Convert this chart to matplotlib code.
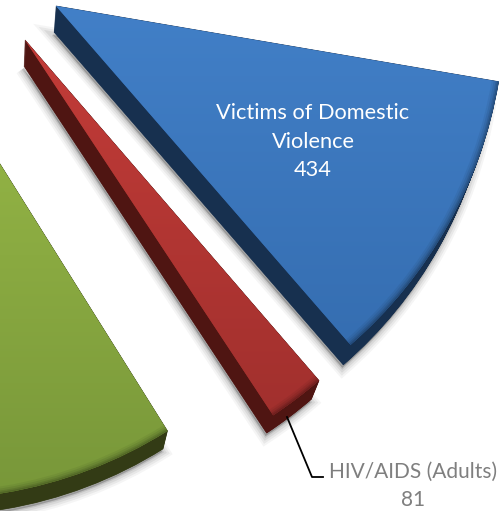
# -*- coding: utf-8 -*-
import numpy as np
import matplotlib
matplotlib.use("Agg")
import matplotlib.pyplot as plt
from matplotlib.colors import LinearSegmentedColormap

# Data
labels = ["Victims of Domestic\nViolence", "HIV/AIDS (Adults)", "Other"]
values = [434, 81, 1000]  # the green slice has no visible label, value is a guess
pieTotal = 3975

# Layout in pixels of the 501x511 picture
W, H = 501, 511
startAngles = [-9.7, -49.2, -57.9]
topCenters = [(56, 6), (25, 40), (-69, 54)]
topRadius = [449, 450, 445]
sideCenters = [(54, 32), (24, 66), (-67, 82)]
sideRadius = [441, 440, 433]

# Colours
topColours = [("#4280C8", "#2F65A6"), ("#C63D39", "#992D2B"), ("#9DBE49", "#779639")]
sideColours = ["#17304F", "#4F1512", "#333B15"]


def drawWedge(ax, share, start, center, radius, **props):
    cx, cy = center
    wedges, _ = ax.pie([share, 1 - share], startangle = start, counterclock = False,
                       center = (cx, H - cy), radius = radius, wedgeprops = props,
                       normalize = False)
    wedges[1].set_visible(False)
    return wedges[0]


def drawSlice(ax, i):
    share = values[i] / pieTotal
    start = startAngles[i]
    tx, ty = topCenters[i]
    sx, sy = sideCenters[i]

    # Soft drop shadow below the slice
    for lw, alpha in [(11, 0.05), (8, 0.07), (5, 0.09), (2, 0.14)]:
        drawWedge(ax, share, start, (sx - 1, sy + 3), sideRadius[i], facecolor = "#404040",
                  edgecolor = "#404040", linewidth = lw, alpha = alpha, zorder = 1)

    # Extruded side, stacked from the bottom face up to the top face
    steps = 30
    for t in np.linspace(0, 1, steps):
        center = (sx + (tx - sx) * t, sy + (ty - sy) * t)
        radius = sideRadius[i] + (topRadius[i] - sideRadius[i]) * t
        drawWedge(ax, share, start, center, radius, facecolor = sideColours[i],
                  edgecolor = sideColours[i], linewidth = 0.5, zorder = 2)

    # Top face with a vertical gradient
    top = drawWedge(ax, share, start, (tx, ty), topRadius[i], facecolor = topColours[i][1],
                    linewidth = 0, zorder = 3)
    cmap = LinearSegmentedColormap.from_list("top{}".format(i), topColours[i])
    gradient = np.linspace(0, 1, 256).reshape(-1, 1)
    im = ax.imshow(gradient, cmap = cmap, extent = (0, W, 0, H), aspect = "auto", zorder = 4)
    im.set_clip_path(top)

    # Darker bevel along the rim of the top face
    for width, alpha in [(7, 0.05), (5, 0.07), (3, 0.1), (1.5, 0.12)]:
        drawWedge(ax, share, start, (tx, ty), topRadius[i], facecolor = "#000000",
                  linewidth = 0, alpha = alpha, width = width, zorder = 5)


def main():
    plt.rcParams["font.family"] = ["Lato", "DejaVu Sans"]
    fig = plt.figure(figsize = (W / 100, H / 100), dpi = 100)
    ax = fig.add_axes([0, 0, 1, 1])

    for i in range(len(values)):
        drawSlice(ax, i)

    ax.text(313, H - 141.5, "{}\n{}".format(labels[0], values[0]), color = "white", fontsize = 15.7,
            ha = "center", va = "center", linespacing = 1.55, zorder = 6)
    ax.text(413, H - 486, "{}\n{}".format(labels[1], values[1]), color = "#7F7F7F", fontsize = 15,
            ha = "center", va = "center", linespacing = 1.5, zorder = 6)

    # Leader line
    ax.plot([287, 312, 323], [H - 417, H - 477, H - 477], color = "black", linewidth = 1.3, zorder = 6)

    ax.set_aspect("equal")
    ax.set_xlim(0, W)
    ax.set_ylim(0, H)
    ax.axis("off")
    fig.savefig("out.png", dpi = 100, facecolor = "white")


if __name__ == "__main__":
    main()
